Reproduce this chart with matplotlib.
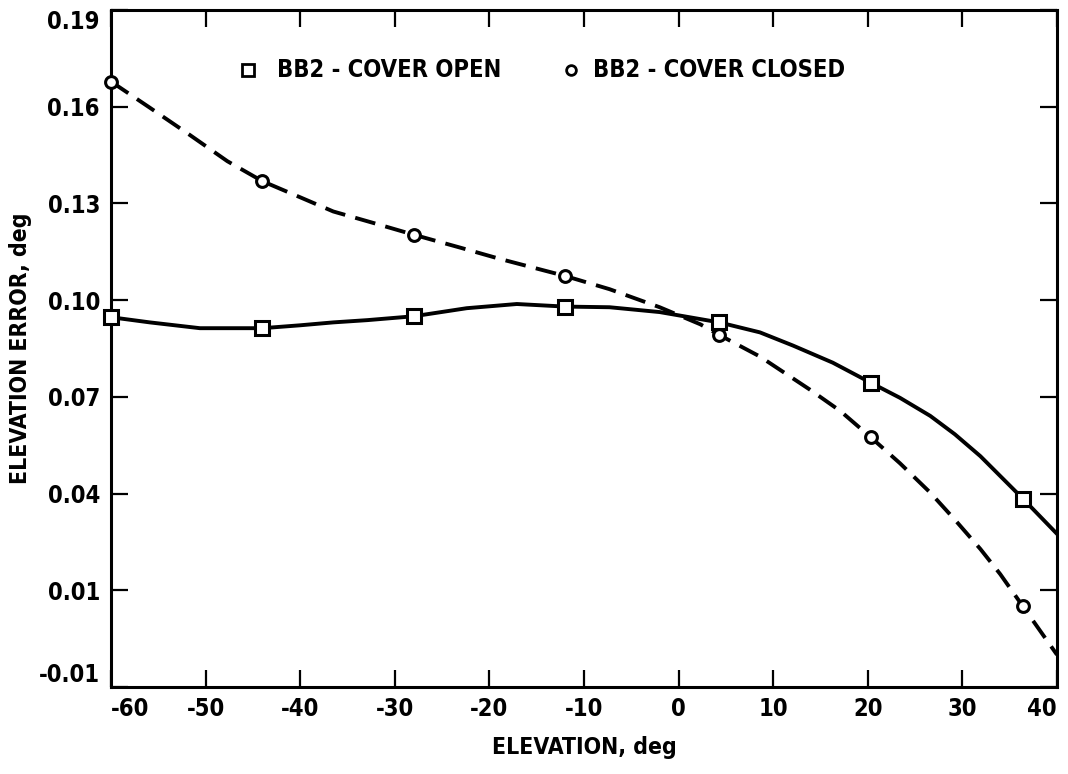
import matplotlib
matplotlib.use("Agg")
import matplotlib.pyplot as plt
from matplotlib.lines import Line2D

plt.rcParams['lines.scale_dashes'] = False
FONT = dict(family='DejaVu Sans', stretch='condensed', weight='bold')

elev_pts = [-60, -44, -28, -12, 4.3, 20.3, 36.4]
open_pts = [0.0947, 0.0913, 0.0950, 0.0980, 0.0931, 0.0744, 0.0384]
closed_pts = [0.1678, 0.1369, 0.1203, 0.1075, 0.0892, 0.0575, 0.0050]

# Faired curves (sampled along the drawn curves of the picture)
open_curve_x = [-60, -55.9, -50.6, -44, -40.0, -36.5, -32.9, -28, -22.4, -17.1,
                -12, -7.3, -2.0, 4.3, 8.6, 12.1, 16.3, 20.3, 23.4, 26.6, 29.2,
                31.9, 36.4, 40.0]
open_curve_y = [0.0947, 0.0931, 0.0913, 0.0913, 0.0922, 0.0931, 0.0938, 0.0950,
                0.0975, 0.0988, 0.0980, 0.0978, 0.0963, 0.0931, 0.0900, 0.0859,
                0.0806, 0.0744, 0.0697, 0.0641, 0.0584, 0.0516, 0.0384, 0.0275]
closed_curve_x = [-60, -55.9, -51.7, -47.7, -44, -40.0, -36.5, -32.1, -28, -23.1,
                  -18.9, -12, -7.3, -2.0, 2.3, 4.3, 8.6, 13.9, 17.1, 20.3, 23.4,
                  26.6, 29.2, 31.9, 34.0, 36.4, 40.0]
closed_curve_y = [0.1678, 0.1597, 0.1513, 0.1431, 0.1369, 0.1319, 0.1275, 0.1238,
                  0.1203, 0.1163, 0.1128, 0.1075, 0.1034, 0.0978, 0.0925, 0.0892,
                  0.0825, 0.0722, 0.0656, 0.0575, 0.0494, 0.0403, 0.0319, 0.0228,
                  0.0150, 0.0050, -0.0100]

xticks = [-60, -50, -40, -30, -20, -10, 0, 10, 20, 30, 40]
xtick_labels = ['-60', '-50', '-40', '-30', '-20', '-10', '0', '10', '20', '30', '40']
yticks = [-0.02, 0.01, 0.04, 0.07, 0.10, 0.13, 0.16, 0.19]
ytick_labels = ['-0.01', '0.01', '0.04', '0.07', '0.10', '0.13', '0.16', '0.19']
legend_labels = ['BB2 - COVER OPEN', 'BB2 - COVER CLOSED']

fig = plt.figure(figsize=(10.68, 7.74), dpi=100)
ax = fig.add_axes([111/1068, 1 - 687/774, (1057-111)/1068, (687-10)/774])

ax.plot(open_curve_x, open_curve_y, color='black', lw=2.8, solid_joinstyle='round')
ax.plot(closed_curve_x, closed_curve_y, color='black', lw=2.8, dashes=(15, 7.5),
        dash_joinstyle='round', dash_capstyle='butt')
ax.plot(elev_pts, open_pts, ls='none', marker='s', ms=9.5, mfc='white', mec='black',
        mew=2.2, clip_on=False, zorder=5)
ax.plot(elev_pts, closed_pts, ls='none', marker='o', ms=8.5, mfc='white', mec='black',
        mew=2.2, clip_on=False, zorder=5)

ax.set_xlim(-60, 40)
ax.set_ylim(-0.02, 0.19)
ax.set_xticks(xticks)
ax.set_xticklabels(xtick_labels)
ax.set_yticks(yticks)
ax.set_yticklabels(ytick_labels)

for s in ax.spines.values():
    s.set_linewidth(2.2)
ax.tick_params(direction='in', length=12, width=1.6, top=True, right=True, labelsize=17)
ax.tick_params(axis='y', pad=8)
ax.tick_params(axis='x', pad=7)
for lab in ax.get_xticklabels() + ax.get_yticklabels():
    lab.set_family(FONT['family'])
    lab.set_stretch(FONT['stretch'])
    lab.set_fontweight(FONT['weight'])
xl = ax.get_xticklabels()
xl[0].set_horizontalalignment('left')
xl[-1].set_horizontalalignment('right')
yl = ax.get_yticklabels()
yl[0].set_verticalalignment('bottom')
yl[-1].set_verticalalignment('top')

ax.set_xlabel('ELEVATION, deg', fontsize=16.5, labelpad=11, **FONT)
ax.set_ylabel('ELEVATION ERROR, deg', fontsize=16.5, labelpad=5, **FONT)

# legend keys and texts inside the axes
leg_handles = [Line2D([0.1448], [0.911], ls='none', marker='s', ms=8, mfc='white', mec='black',
                      mew=2, transform=ax.transAxes),
               Line2D([0.4862], [0.911], ls='none', marker='o', ms=7, mfc='white', mec='black',
                      mew=2, transform=ax.transAxes)]
for h in leg_handles:
    ax.add_line(h)
ax.text(0.1755, 0.911, legend_labels[0], transform=ax.transAxes, va='center', ha='left',
        fontsize=17, **FONT)
ax.text(0.5095, 0.911, legend_labels[1], transform=ax.transAxes, va='center', ha='left',
        fontsize=17, **FONT)

fig.savefig('out.png', dpi=100)
